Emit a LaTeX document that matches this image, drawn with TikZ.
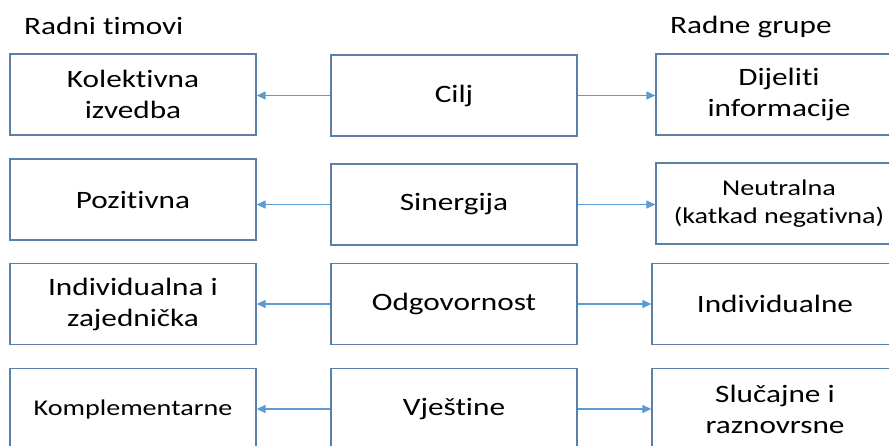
\documentclass[tikz,border=0pt]{standalone}
\usepackage{fontspec}
\setmainfont{Carlito}[FakeStretch=1.25, Ligatures={NoCommon}]
\usetikzlibrary{arrows.meta}
\definecolor{boxline}{HTML}{5A7FA8}
\definecolor{arrowline}{HTML}{5B9BD5}

\begin{document}
\begin{tikzpicture}[x=1pt,y=-1pt,
    box/.style={draw=boxline, line width=1.3pt, minimum width=246pt, minimum height=81pt,
                inner sep=0pt, align=center, font=\fontsize{25}{31}\selectfont},
    smallbox/.style={box, font=\fontsize{22.5}{28}\selectfont},
    link/.style={draw=arrowline, line width=1.2pt, -{Triangle[length=9pt,width=8pt]}}]
    \clip (0,0) rectangle (889,445);

    % Headings
    \node[anchor=base west, inner sep=0pt, font=\fontsize{25}{31}\selectfont] (tim) at (24,34) {Radni timovi};
    \node[anchor=base west, inner sep=0pt, font=\fontsize{25}{31}\selectfont] (grp) at (670,33) {Radne grupe};

    % Middle column
    \node[box] (cilj) at (454,95.5) {Cilj};
    \node[box] (sin) at (454,204.5) {Sinergija};
    \node[box] (odg) at (454,304) {Odgovornost};
    \node[box] (vje) at (454,409) {Vještine};

    % Radni timovi
    \node[box] (kol) at (133,94.5) {Kolektivna\\izvedba};
    \node[box] (poz) at (133,199.5) {Pozitivna};
    \node[box] (izj) at (133,304) {Individualna i\\zajednička};
    \node[smallbox] (kom) at (133,409) {Komplementarne};

    % Radne grupe
    \node[box] (dij) at (779,94.5) {Dijeliti\\informacije};
    \node[smallbox] (neu) at (779,203.5) {Neutralna\\(katkad negativna)};
    \node[box] (ind) at (775,304) {Individualne};
    \node[box] (slu) at (775,409) {Slučajne i\\raznovrsne};

    % Arrows
    \draw[link] (cilj.west) -- (cilj.west -| kol.east);
    \draw[link] (sin.west) -- (sin.west -| poz.east);
    \draw[link] (odg.west) -- (odg.west -| izj.east);
    \draw[link] (vje.west) -- (vje.west -| kom.east);
    \draw[link] (cilj.east) -- (cilj.east -| dij.west);
    \draw[link] (sin.east) -- (sin.east -| neu.west);
    \draw[link] (odg.east) -- (odg.east -| ind.west);
    \draw[link] (vje.east) -- (vje.east -| slu.west);

\end{tikzpicture}
\end{document}
